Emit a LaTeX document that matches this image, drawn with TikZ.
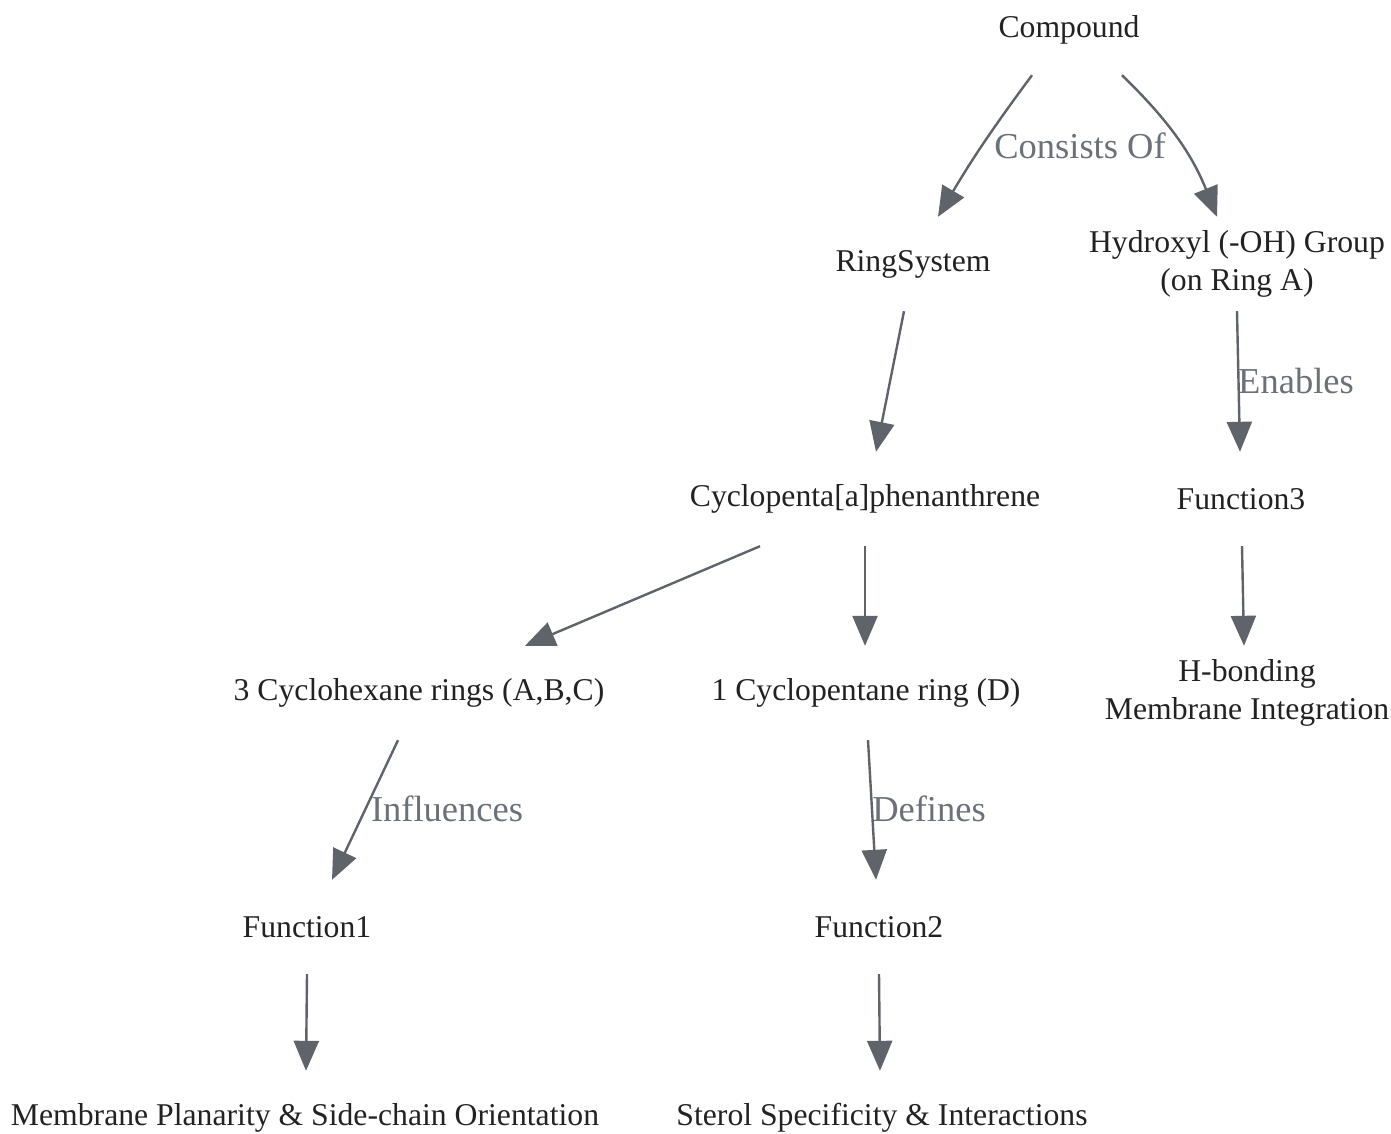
\documentclass[tikz,border=0pt]{standalone}
\usepackage{fontspec}
\setmainfont{Liberation Serif}
\usetikzlibrary{arrows.meta}
\definecolor{edgecol}{RGB}{95,99,106}
\definecolor{labcol}{RGB}{108,112,120}
\definecolor{txtcol}{RGB}{34,34,34}
\begin{document}
\begin{tikzpicture}[x=1pt,y=1pt,
  box/.style={inner sep=0pt, minimum height=94pt, align=center, text=txtcol, font=\fontsize{31.7}{38}\selectfont},
  conn/.style={draw=edgecol, line width=2.4pt, -{Triangle[length=30pt,width=25pt]}},
  elab/.style={text=labcol, font=\fontsize{36.5}{40}\selectfont, inner sep=0pt}]
\useasboundingbox (0,0) rectangle (1391,-1133);
\node[box] (cmp) at (1069,-30) {Compound};
\node[box] (rs) at (913,-264) {RingSystem};
\node[box] (oh) at (1237,-264) {Hydroxyl (-OH) Group\\(on Ring A)};
\node[box] (cpp) at (865,-499) {Cyclopenta[a]phenanthrene};
\node[box] (f3) at (1241,-499) {Function3};
\node[box] (chx) at (419,-693) {3 Cyclohexane rings (A,B,C)};
\node[box] (cpt) at (866,-693) {1 Cyclopentane ring (D)};
\node[box] (hb) at (1247,-693) {H-bonding\\Membrane Integration};
\node[box] (f1) at (307,-927) {Function1};
\node[box] (f2) at (879,-927) {Function2};
\node[box] (mp) at (305,-1118) {Membrane Planarity \& Side-chain Orientation};
\node[box] (ss) at (882,-1118) {Sterol Specificity \& Interactions};

\draw[conn] ([xshift=-37pt,yshift=2pt]cmp.south) to[bend right=3] ([xshift=25pt]rs.north);
\draw[conn] ([xshift=53pt,yshift=2pt]cmp.south) to[bend left=12] ([xshift=-20pt]oh.north);
\node[elab] (l1) at (1080,-146) {Consists Of};
\draw[conn] ([xshift=-9pt]rs.south) -- ([xshift=11pt]cpp.north);
\draw[conn] ([xshift=0pt]oh.south) -- ([xshift=-1pt]f3.north);
\node[elab] (l2) at (1296,-381) {Enables};
\draw[conn] ([xshift=-105pt]cpp.south) -- ([xshift=106pt]chx.north);
\draw[conn] (cpp.south) -- ([xshift=-1pt]cpt.north);
\draw[conn] ([xshift=1pt]f3.south) -- ([xshift=-3pt]hb.north);
\draw[conn] ([xshift=-21pt]chx.south) -- ([xshift=25pt]f1.north);
\node[elab] (l3) at (447,-809) {Influences};
\draw[conn] ([xshift=2pt]cpt.south) -- ([xshift=-3pt]f2.north);
\node[elab] (l4) at (929,-809) {Defines};
\draw[conn] (f1.south) -- ([xshift=1pt]mp.north);
\draw[conn] (f2.south) -- ([xshift=-2pt]ss.north);
\end{tikzpicture}
\end{document}
